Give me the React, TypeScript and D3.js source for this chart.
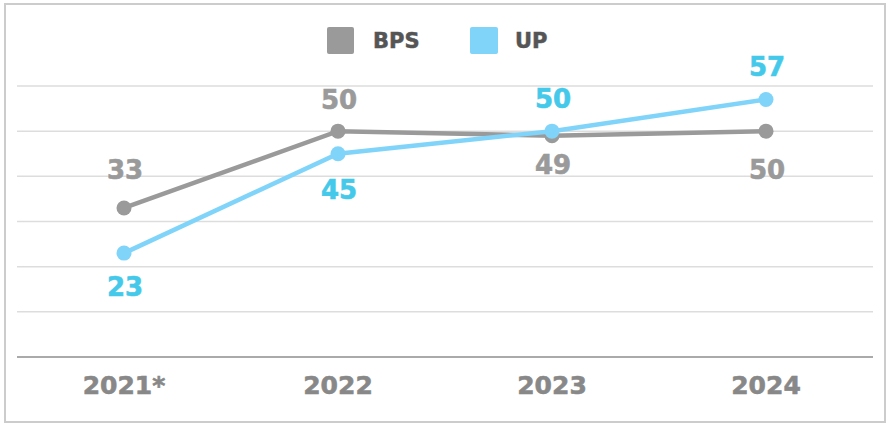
import React from "react";
import * as d3 from "d3";

const categories = ["2021*", "2022", "2023", "2024"];
const bpsValues = [33, 50, 49, 50];
const upValues = [23, 45, 50, 57];
const yTicks = [0, 10, 20, 30, 40, 50, 60];
const seriesNames = ["BPS", "UP"];

// label placement (style): offsets in px relative to point
const bpsLabelDy = [-29, -22, 38, 48];
const upLabelDy = [43, 45, -23, -24];

const W = 889;
const H = 427;
const FONT = "'DejaVu Sans', sans-serif";

export default function App() {
  const x = d3.scaleBand<string>().domain(categories).range([17, 873]);
  const cx = (c: string) => (x(c) as number) + x.bandwidth() / 2;
  const y = d3.scaleLinear().domain([0, 60]).range([357, 86]);

  const line = d3
    .line<number>()
    .x((_, i) => cx(categories[i]))
    .y((d) => y(d));

  const series = [
    { name: seriesNames[0], values: bpsValues, line: "#9a9a9a", label: "#9a9a9a", dy: bpsLabelDy },
    { name: seriesNames[1], values: upValues, line: "#80d4f9", label: "#44c9ea", dy: upLabelDy },
  ];

  return (
    <svg
      width={W}
      height={H}
      style={{ position: "absolute", left: 0, top: 0, background: "#fff" }}
    >
      <rect x={5} y={4} width={880} height={418} fill="#fff" stroke="#cccccc" strokeWidth={2} />
      {yTicks.map((t) => (
        <line
          key={t}
          x1={17}
          x2={873}
          y1={y(t)}
          y2={y(t)}
          stroke={t === 0 ? "#aaaaaa" : "#dddddd"}
          strokeWidth={t === 0 ? 2 : 1.5}
        />
      ))}
      {categories.map((c) => (
        <text
          key={c}
          x={cx(c)}
          y={394}
          textAnchor="middle"
          fontFamily={FONT}
          fontWeight="bold"
          fontSize={25}
          fill="#888888"
          stroke="#888888"
          strokeWidth={0.6}
        >
          {c}
        </text>
      ))}
      {series.map((s) => (
        <g key={s.name}>
          <path d={line(s.values) || ""} fill="none" stroke={s.line} strokeWidth={4.5} />
          {s.values.map((v, i) => (
            <circle key={i} cx={cx(categories[i])} cy={y(v)} r={7.5} fill={s.line} />
          ))}
        </g>
      ))}
      {series.map((s) => (
        <g key={s.name + "l"}>
          {s.values.map((v, i) => (
            <text
              key={i}
              x={cx(categories[i]) + 1}
              y={y(v) + s.dy[i]}
              textAnchor="middle"
              fontFamily={FONT}
              fontWeight="bold"
              fontSize={26}
              fill={s.label}
              stroke={s.label}
              strokeWidth={0.6}
            >
              {v}
            </text>
          ))}
        </g>
      ))}
      {/* legend */}
      <rect x={327} y={27} width={27} height={27} rx={2} fill="#9a9a9a" />
      <text x={373} y={48} fontFamily={FONT} fontWeight="bold" fontSize={21} fill="#555555" stroke="#555555" strokeWidth={0.5}>
        {seriesNames[0]}
      </text>
      <rect x={470} y={27} width={28} height={27} rx={2} fill="#80d4f9" />
      <text x={515} y={48} fontFamily={FONT} fontWeight="bold" fontSize={21} fill="#555555" stroke="#555555" strokeWidth={0.5}>
        {seriesNames[1]}
      </text>
    </svg>
  );
}
